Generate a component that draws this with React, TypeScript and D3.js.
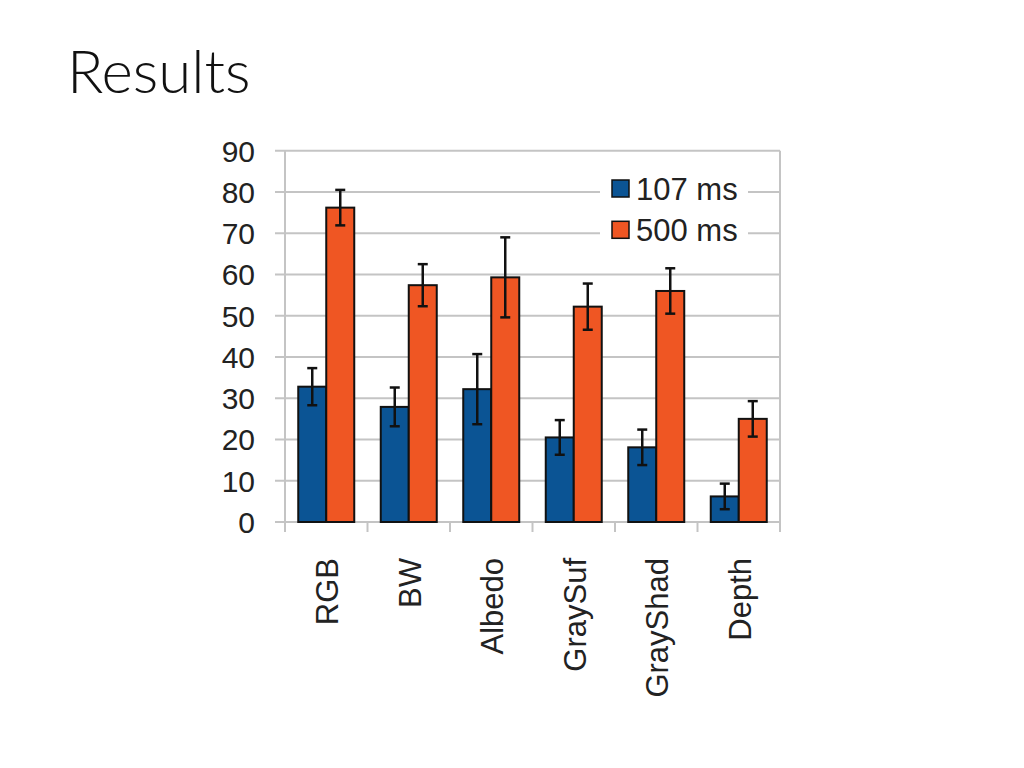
import React from "react";
import * as d3 from "d3";

const categories = ["RGB", "BW", "Albedo", "GraySuf", "GrayShad", "Depth"];
const seriesNames = ["107 ms", "500 ms"];
const values107 = [32.8, 27.9, 32.2, 20.5, 18.1, 6.2];
const errors107 = [4.5, 4.7, 8.5, 4.2, 4.3, 3.1];
const values500 = [76.2, 57.4, 59.3, 52.2, 56.0, 25.0];
const errors500 = [4.3, 5.1, 9.7, 5.6, 5.5, 4.3];
const yTicks = [0, 10, 20, 30, 40, 50, 60, 70, 80, 90];
const colors = ["#0b5494", "#ef5623"];

const W = 1024;
const H = 768;
const left = 285;
const right = 780;
const top = 150.7;
const bottom = 522;

export default function App() {
  const x = d3.scaleBand<string>().domain(categories).range([left, right]).paddingInner(0).paddingOuter(0);
  const y = d3.scaleLinear().domain([0, 90]).range([bottom, top]);
  const barW = 28;
  const series = [
    { vals: values107, errs: errors107 },
    { vals: values500, errs: errors500 },
  ];
  const font = "'Liberation Sans', Arial, sans-serif";
  const grid = "#c4c4c4";

  return (
    <svg width={W} height={H} style={{ position: "absolute", left: 0, top: 0, background: "#fff" }}>
      <rect x={0} y={0} width={W} height={H} fill="#fff" />
      <text x={67} y={93} fontFamily="Lato, 'Open Sans', sans-serif" fontWeight={300} fontSize={60} fill="#111">
        Results
      </text>
      {yTicks.map((t) => (
        <g key={t}>
          <line x1={left - 10} x2={right} y1={y(t)} y2={y(t)} stroke={grid} strokeWidth={2} />
          <text x={255} y={y(t)} dy="0.36em" textAnchor="end" fontFamily={font} fontSize={30} fill="#222">
            {t}
          </text>
        </g>
      ))}
      <line x1={left} x2={left} y1={top} y2={bottom + 10} stroke={grid} strokeWidth={2} />
      <line x1={right} x2={right} y1={top} y2={bottom + 10} stroke={grid} strokeWidth={2} />
      {categories.map((c, i) =>
        i > 0 ? (
          <line key={c} x1={x(c)!} x2={x(c)!} y1={bottom} y2={bottom + 10} stroke={grid} strokeWidth={2} />
        ) : null
      )}
      <rect x={600} y={168} width={148} height={80} fill="#fff" />
      {seriesNames.map((s, i) => (
        <g key={s}>
          <rect x={612} y={180 + i * 41.3} width={17} height={17} fill={colors[i]} stroke="#111" strokeWidth={1.5} />
          <text x={636} y={189 + i * 41.3} dy="0.36em" fontFamily={font} fontSize={31} fill="#222">
            {s}
          </text>
        </g>
      ))}
      {categories.map((c, i) => {
        const cx = x(c)! + x.bandwidth() / 2;
        return (
          <g key={c}>
            {series.map((s, k) => {
              const bx = cx - barW + k * barW;
              const v = s.vals[i];
              const e = s.errs[i];
              const mx = bx + barW / 2;
              return (
                <g key={k}>
                  <rect x={bx} y={y(v)} width={barW} height={y(0) - y(v)} fill={colors[k]} stroke="#111" strokeWidth={2} />
                  <line x1={mx} x2={mx} y1={y(v + e)} y2={y(v - e)} stroke="#111" strokeWidth={2.5} />
                  <line x1={mx - 5} x2={mx + 5} y1={y(v + e)} y2={y(v + e)} stroke="#111" strokeWidth={2.5} />
                  <line x1={mx - 5} x2={mx + 5} y1={y(v - e)} y2={y(v - e)} stroke="#111" strokeWidth={2.5} />
                </g>
              );
            })}
            <text
              transform={`translate(${cx + 1},558) rotate(-90)`}
              dy="0.36em"
              textAnchor="end"
              fontFamily={font}
              fontSize={31}
              fill="#222"
            >
              {c}
            </text>
          </g>
        );
      })}
    </svg>
  );
}
